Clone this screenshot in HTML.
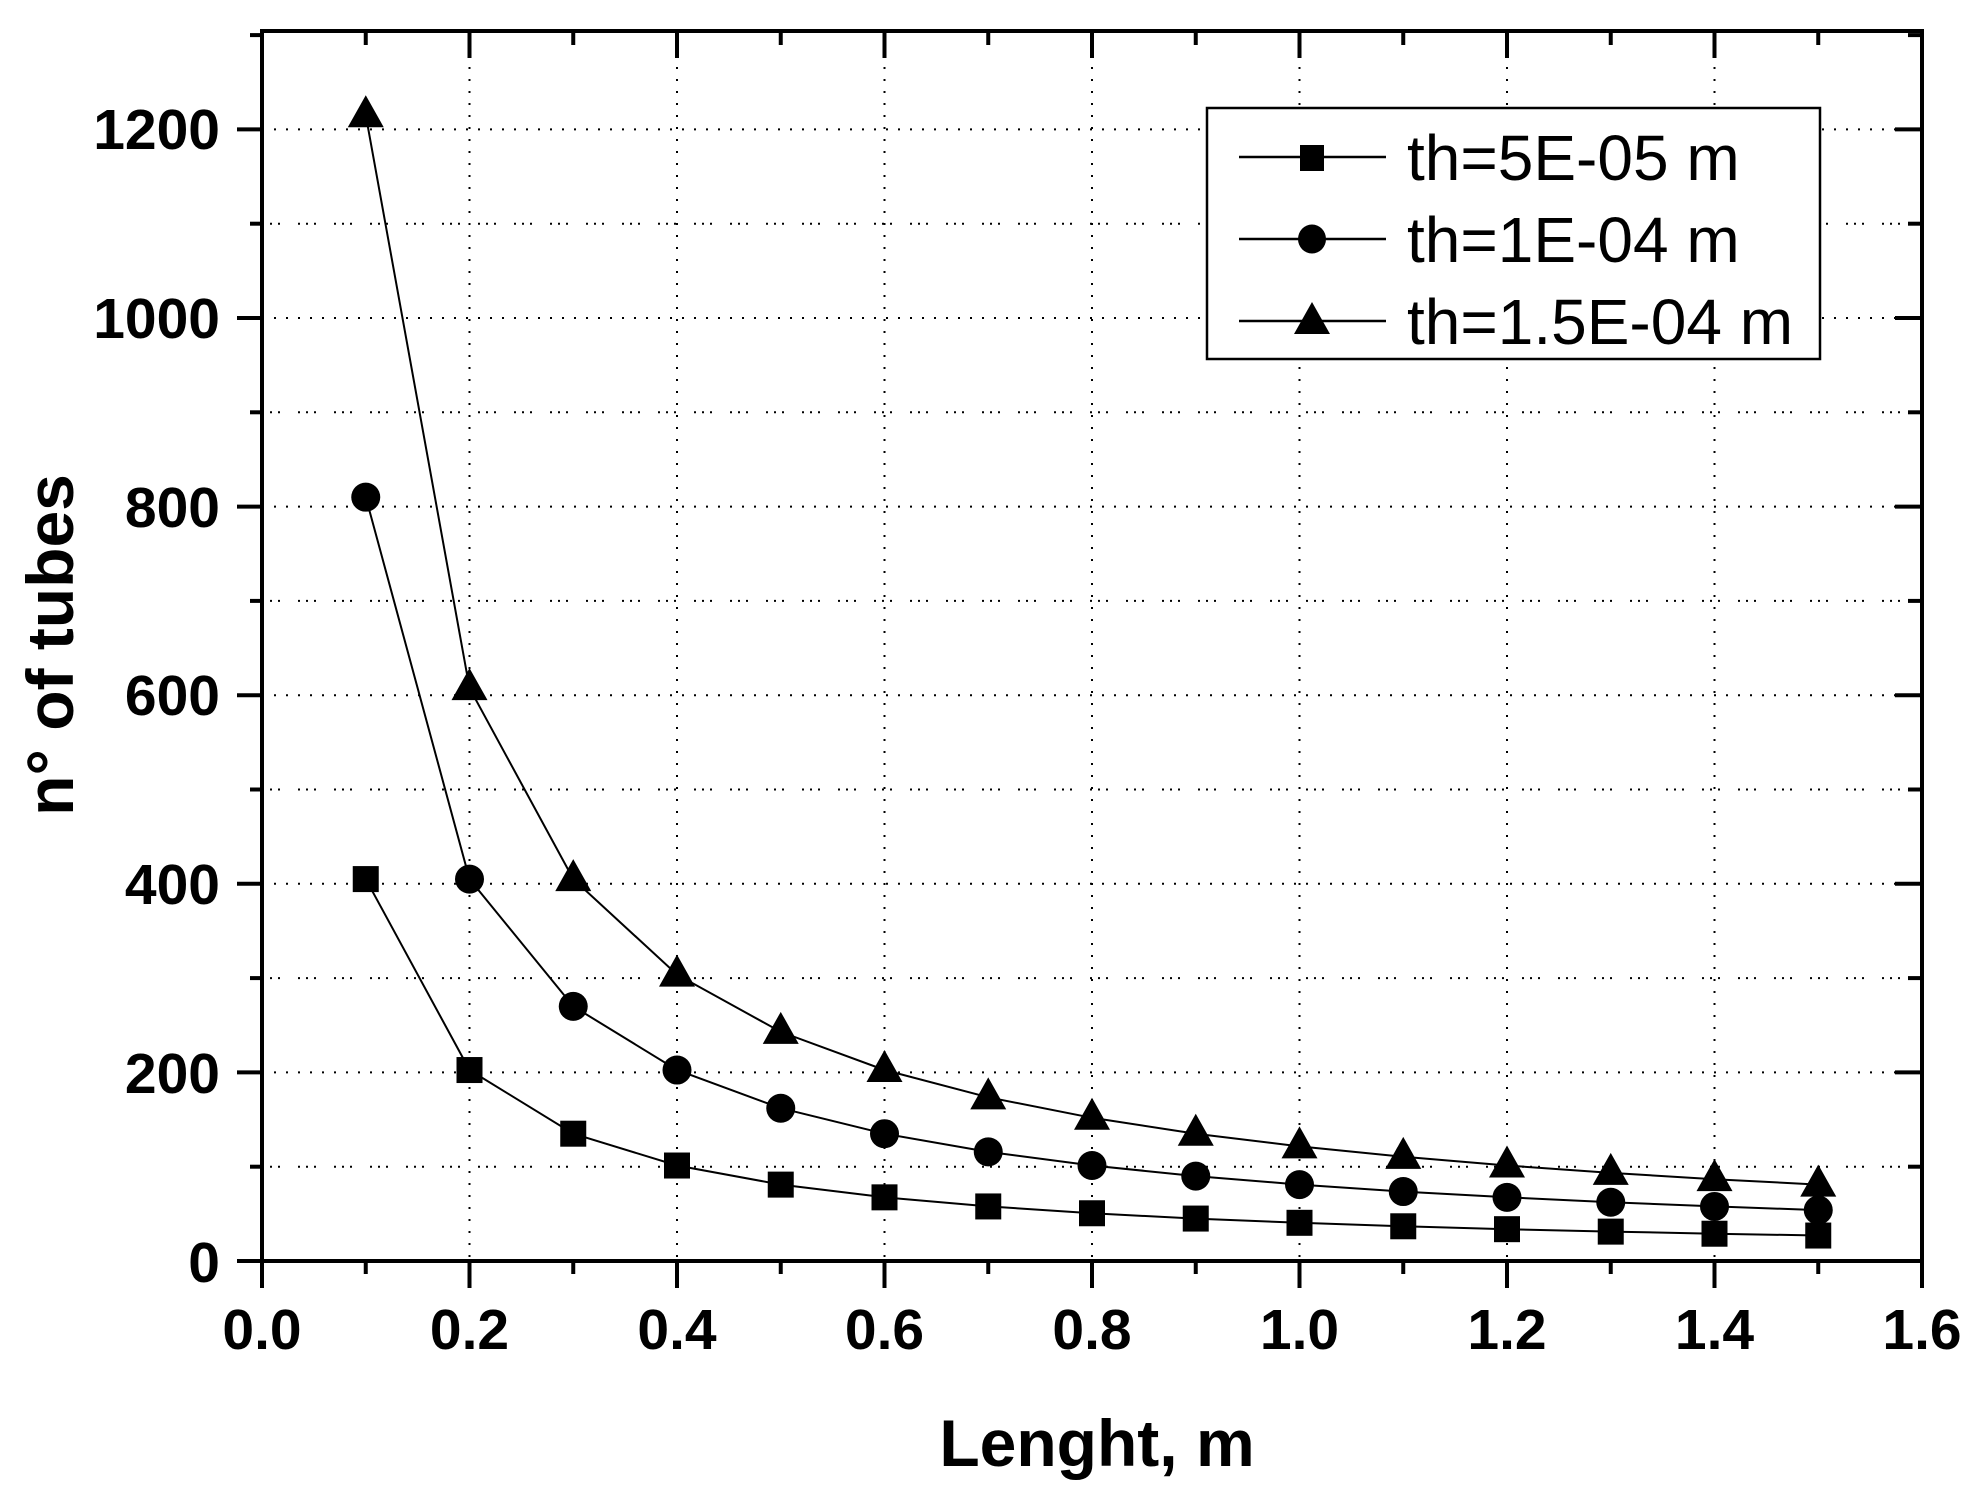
<!DOCTYPE html>
<html><head><meta charset="utf-8"><style>
html,body{margin:0;padding:0;background:#fff;}
svg{display:block;}
text{font-family:"Liberation Sans",Arial,sans-serif;fill:#000;}
</style></head><body>
<svg id="s" width="1983" height="1495" viewBox="0 0 1983 1495" xmlns="http://www.w3.org/2000/svg">
<rect width="1983" height="1495" fill="#fff"/>
<g id="grid"></g>
<g id="curves" fill="none" stroke="#000" stroke-width="2"></g>
<g id="marks" fill="#000"></g>
<rect x="262" y="31" width="1660" height="1230" fill="none" stroke="#000" stroke-width="4"/>
<g id="ticks" stroke="#000" stroke-width="4"></g>
<g font-weight="bold" font-size="57" text-anchor="end">
<text x="220" y="1282">0</text>
<text x="220" y="1093">200</text>
<text x="220" y="904">400</text>
<text x="220" y="715">600</text>
<text x="220" y="527">800</text>
<text x="220" y="338">1000</text>
<text x="220" y="149">1200</text>
</g>
<g font-weight="bold" font-size="57" text-anchor="middle">
<text x="262" y="1349">0.0</text>
<text x="469.5" y="1349">0.2</text>
<text x="677" y="1349">0.4</text>
<text x="884.5" y="1349">0.6</text>
<text x="1092" y="1349">0.8</text>
<text x="1299.5" y="1349">1.0</text>
<text x="1507" y="1349">1.2</text>
<text x="1714.5" y="1349">1.4</text>
<text x="1922" y="1349">1.6</text>
</g>
<text x="1097" y="1466" font-weight="bold" font-size="66" text-anchor="middle">Lenght, m</text>
<text transform="translate(73,645) rotate(-90)" font-weight="bold" font-size="66" text-anchor="middle">n° of tubes</text>
<rect x="1207" y="108" width="613" height="251" fill="#fff" stroke="#000" stroke-width="2.5"/>
<g stroke="#000" stroke-width="2.5">
<line x1="1239" y1="157" x2="1386" y2="157"/>
<line x1="1239" y1="239" x2="1386" y2="239"/>
<line x1="1239" y1="321" x2="1386" y2="321"/>
</g>
<rect x="1300" y="145" width="24" height="26" fill="#000"/>
<ellipse cx="1312" cy="239" rx="14" ry="14.5" fill="#000"/>
<polygon points="1312,302 1294,334 1330,334" fill="#000"/>
<g font-size="64">
<text x="1407" y="180">th=5E-05 m</text>
<text x="1407" y="262">th=1E-04 m</text>
<text x="1407" y="344">th=1.5E-04 m</text>
</g>
</svg>
<script>
var NS="http://www.w3.org/2000/svg";
function X(v){return 262+1037.5*v;}
function Y(v){return 1261-0.943*v;}
function el(p,t,a){var e=document.createElementNS(NS,t);for(var k in a)e.setAttribute(k,a[k]);document.getElementById(p).appendChild(e);return e;}
for(var i=1;i<8;i++){el("grid","line",{x1:X(i*0.2),y1:31,x2:X(i*0.2),y2:1261,stroke:"#000","stroke-width":2,"stroke-dasharray":"2 10"});}
for(var j=1;j<13;j++){var y=Y(j*100);
 if(j%2==0) el("grid","line",{x1:262,y1:y,x2:1922,y2:y,stroke:"#000","stroke-width":2,"stroke-dasharray":"2 10"});
 else el("grid","line",{x1:262,y1:y,x2:1922,y2:y,stroke:"#000","stroke-width":2,"stroke-dasharray":"2 6 2 6 2 18"});}
for(var i=0;i<=16;i++){var x=X(i*0.1),maj=(i%2==0);
 el("ticks","line",{x1:x,y1:1261,x2:x,y2:maj?1288:1274});
 el("ticks","line",{x1:x,y1:31,x2:x,y2:maj?58:45});}
for(var j=0;j<=13;j++){var y=Y(j*100),maj=(j%2==0);
 el("ticks","line",{x1:262,y1:y,x2:maj?237:250,y2:y});
 el("ticks","line",{x1:1922,y1:y,x2:maj?1895:1908,y2:y});}
var K=[40.5,81,121.5];
K.forEach(function(k,idx){
 var d="";for(var n=1;n<=15;n++){var v=n/10;d+=(d?"L":"M")+X(v).toFixed(1)+","+Y(k/v).toFixed(1);}
 el("curves","path",{d:d});
 for(var n=1;n<=15;n++){var v=n/10,cx=X(v),cy=Y(k/v);
  if(idx==0) el("marks","rect",{x:cx-13,y:cy-13,width:26,height:26});
  else if(idx==1) el("marks","circle",{cx:cx,cy:cy,r:14.5});
  else el("marks","polygon",{points:cx+","+(cy-20)+" "+(cx-18)+","+(cy+12)+" "+(cx+18)+","+(cy+12)});
 }
});
</script>
</body></html>
